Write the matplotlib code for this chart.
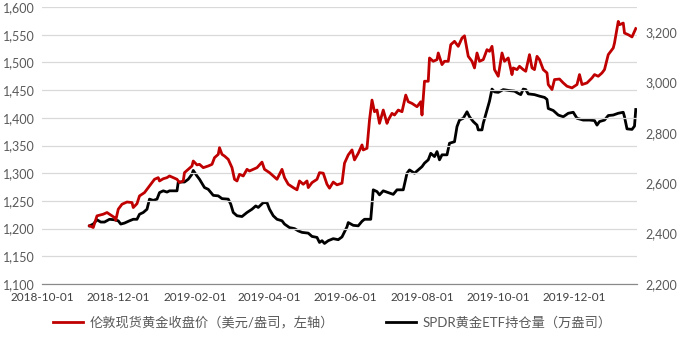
import matplotlib
matplotlib.use("Agg")
import matplotlib.pyplot as plt
import matplotlib.dates as mdates
import pandas as pd

# 伦敦现货黄金收盘价 (left axis, USD/oz)
gold_dates = [
    "2018-11-08", "2018-11-11", "2018-11-14", "2018-11-19", "2018-11-22", "2018-11-26",
    "2018-11-28", "2018-11-29", "2018-12-01", "2018-12-04", "2018-12-08", "2018-12-12",
    "2018-12-13", "2018-12-16", "2018-12-18", "2018-12-22", "2018-12-25", "2018-12-28",
    "2018-12-30", "2019-01-02", "2019-01-03", "2019-01-06", "2019-01-09", "2019-01-11",
    "2019-01-14", "2019-01-17", "2019-01-19", "2019-01-22", "2019-01-23", "2019-01-26",
    "2019-01-29", "2019-01-30", "2019-02-02", "2019-02-04", "2019-02-07", "2019-02-11",
    "2019-02-14", "2019-02-16", "2019-02-19", "2019-02-20", "2019-02-22", "2019-02-24",
    "2019-02-27", "2019-03-02", "2019-03-04", "2019-03-06", "2019-03-08", "2019-03-11",
    "2019-03-14", "2019-03-16", "2019-03-19", "2019-03-22", "2019-03-26", "2019-03-28",
    "2019-04-01", "2019-04-04", "2019-04-07", "2019-04-11", "2019-04-13", "2019-04-16",
    "2019-04-20", "2019-04-23", "2019-04-25", "2019-04-28", "2019-05-01", "2019-05-02",
    "2019-05-05", "2019-05-09", "2019-05-11", "2019-05-14", "2019-05-17", "2019-05-19",
    "2019-05-22", "2019-05-25", "2019-05-29", "2019-05-31", "2019-06-03", "2019-06-06",
    "2019-06-08", "2019-06-11", "2019-06-14", "2019-06-15", "2019-06-18", "2019-06-20",
    "2019-06-22", "2019-06-24", "2019-06-26", "2019-06-28", "2019-07-01", "2019-07-04",
    "2019-07-05", "2019-07-08", "2019-07-10", "2019-07-13", "2019-07-16", "2019-07-19",
    "2019-07-21", "2019-07-24", "2019-07-28", "2019-07-31", "2019-08-01", "2019-08-03",
    "2019-08-06", "2019-08-07", "2019-08-10", "2019-08-13", "2019-08-14", "2019-08-17",
    "2019-08-19", "2019-08-22", "2019-08-24", "2019-08-27", "2019-08-30", "2019-09-02",
    "2019-09-04", "2019-09-07", "2019-09-10", "2019-09-12", "2019-09-14", "2019-09-16",
    "2019-09-19", "2019-09-22", "2019-09-24", "2019-09-26", "2019-09-27", "2019-09-28",
    "2019-10-01", "2019-10-04", "2019-10-06", "2019-10-09", "2019-10-12", "2019-10-13",
    "2019-10-16", "2019-10-18", "2019-10-21", "2019-10-23", "2019-10-26", "2019-10-28",
    "2019-10-30", "2019-11-01", "2019-11-03", "2019-11-06", "2019-11-09", "2019-11-10",
    "2019-11-13", "2019-11-15", "2019-11-19", "2019-11-22", "2019-11-25", "2019-11-29",
    "2019-12-03", "2019-12-05", "2019-12-07", "2019-12-11", "2019-12-15", "2019-12-17",
    "2019-12-20", "2019-12-23", "2019-12-25", "2019-12-28", "2020-01-01", "2020-01-02",
    "2020-01-05", "2020-01-06", "2020-01-09", "2020-01-10", "2020-01-13", "2020-01-16",
    "2020-01-19",
]
gold_price = [
    1205, 1202, 1223, 1226, 1229, 1223,
    1220, 1215, 1235, 1244, 1248, 1247,
    1238, 1245, 1259, 1265, 1274, 1283,
    1289, 1292, 1286, 1290, 1292, 1295,
    1292, 1289, 1283, 1286, 1301, 1307,
    1313, 1322, 1315, 1316, 1310, 1313,
    1316, 1328, 1334, 1346, 1334, 1331,
    1325, 1310, 1289, 1286, 1298, 1295,
    1307, 1304, 1307, 1310, 1320, 1307,
    1301, 1295, 1289, 1307, 1292, 1280,
    1274, 1270, 1286, 1280, 1286, 1274,
    1283, 1289, 1301, 1300, 1280, 1273,
    1284, 1279, 1282, 1318, 1333, 1342,
    1324, 1336, 1351, 1342, 1345, 1396,
    1432, 1411, 1414, 1390, 1414, 1390,
    1396, 1408, 1405, 1414, 1411, 1441,
    1429, 1426, 1420, 1429, 1405, 1466,
    1466, 1508, 1502, 1505, 1517, 1496,
    1502, 1502, 1532, 1538, 1529, 1544,
    1548, 1511, 1502, 1490, 1517, 1502,
    1505, 1523, 1520, 1529, 1511, 1487,
    1475, 1517, 1502, 1508, 1478, 1490,
    1487, 1493, 1487, 1484, 1514, 1490,
    1487, 1511, 1505, 1487, 1481, 1460,
    1451, 1469, 1470, 1463, 1457, 1454,
    1460, 1478, 1460, 1463, 1472, 1478,
    1475, 1481, 1487, 1514, 1526, 1535,
    1574, 1568, 1571, 1553, 1550, 1546,
    1561,
]

# SPDR黄金ETF持仓量 (right axis, 万盎司)
etf_dates = [
    "2018-11-08", "2018-11-11", "2018-11-14", "2018-11-17", "2018-11-20", "2018-11-24",
    "2018-11-28", "2018-12-01", "2018-12-03", "2018-12-06", "2018-12-10", "2018-12-13",
    "2018-12-16", "2018-12-18", "2018-12-21", "2018-12-24", "2018-12-26", "2018-12-29",
    "2019-01-01", "2019-01-03", "2019-01-06", "2019-01-09", "2019-01-11", "2019-01-17",
    "2019-01-18", "2019-01-23", "2019-01-26", "2019-01-29", "2019-01-30", "2019-02-02",
    "2019-02-04", "2019-02-08", "2019-02-11", "2019-02-15", "2019-02-19", "2019-02-22",
    "2019-02-27", "2019-03-01", "2019-03-03", "2019-03-06", "2019-03-10", "2019-03-14",
    "2019-03-18", "2019-03-21", "2019-03-23", "2019-03-27", "2019-03-30", "2019-04-01",
    "2019-04-04", "2019-04-07", "2019-04-11", "2019-04-13", "2019-04-17", "2019-04-21",
    "2019-04-24", "2019-04-27", "2019-05-02", "2019-05-05", "2019-05-09", "2019-05-11",
    "2019-05-13", "2019-05-15", "2019-05-18", "2019-05-22", "2019-05-26", "2019-05-29",
    "2019-06-02", "2019-06-03", "2019-06-07", "2019-06-11", "2019-06-14", "2019-06-16",
    "2019-06-21", "2019-06-23", "2019-06-26", "2019-06-28", "2019-07-01", "2019-07-05",
    "2019-07-09", "2019-07-12", "2019-07-17", "2019-07-20", "2019-07-22", "2019-07-26",
    "2019-07-29", "2019-08-01", "2019-08-03", "2019-08-06", "2019-08-08", "2019-08-11",
    "2019-08-13", "2019-08-15", "2019-08-17", "2019-08-21", "2019-08-23", "2019-08-27",
    "2019-08-29", "2019-08-31", "2019-09-03", "2019-09-06", "2019-09-08", "2019-09-11",
    "2019-09-14", "2019-09-15", "2019-09-18", "2019-09-19", "2019-09-22", "2019-09-24",
    "2019-09-26", "2019-09-28", "2019-10-01", "2019-10-05", "2019-10-10", "2019-10-14",
    "2019-10-17", "2019-10-19", "2019-10-21", "2019-10-23", "2019-10-25", "2019-10-30",
    "2019-11-03", "2019-11-07", "2019-11-09", "2019-11-10", "2019-11-14", "2019-11-18",
    "2019-11-22", "2019-11-26", "2019-11-30", "2019-12-03", "2019-12-08", "2019-12-13",
    "2019-12-17", "2019-12-19", "2019-12-21", "2019-12-25", "2019-12-28", "2020-01-01",
    "2020-01-05", "2020-01-09", "2020-01-10", "2020-01-12", "2020-01-16", "2020-01-18",
    "2020-01-19",
]
etf_holdings = [
    2431, 2438, 2455, 2446, 2446, 2457,
    2455, 2451, 2438, 2442, 2451, 2457,
    2457, 2477, 2484, 2497, 2537, 2532,
    2537, 2563, 2570, 2565, 2570, 2570,
    2605, 2605, 2616, 2636, 2651, 2629,
    2616, 2583, 2576, 2552, 2550, 2539,
    2537, 2517, 2484, 2471, 2468, 2484,
    2497, 2510, 2504, 2523, 2523, 2497,
    2471, 2457, 2451, 2438, 2424, 2420,
    2411, 2405, 2402, 2389, 2385, 2365,
    2372, 2361, 2372, 2380, 2376, 2387,
    2427, 2444, 2433, 2431, 2449, 2457,
    2457, 2574, 2567, 2554, 2570, 2563,
    2556, 2574, 2574, 2640, 2653, 2640,
    2653, 2666, 2680, 2693, 2719, 2706,
    2726, 2693, 2713, 2713, 2759, 2765,
    2825, 2851, 2858, 2884, 2864, 2845,
    2831, 2812, 2812, 2838, 2891, 2926,
    2974, 2963, 2961, 2972, 2968, 2966,
    2957, 2952, 2974, 2972, 2955, 2952,
    2946, 2941, 2933, 2897, 2889, 2871,
    2864, 2878, 2882, 2858, 2851, 2851,
    2849, 2831, 2845, 2851, 2869, 2871,
    2878, 2882, 2864, 2816, 2814, 2827,
    2893,
]

left_ticks = [1100, 1150, 1200, 1250, 1300, 1350, 1400, 1450, 1500, 1550, 1600]
right_ticks = [2200, 2400, 2600, 2800, 3000, 3200]
x_ticks = ["2018-10-01", "2018-12-01", "2019-02-01", "2019-04-01",
           "2019-06-01", "2019-08-01", "2019-10-01", "2019-12-01"]

gold_label = "伦敦现货黄金收盘价（美元/盎司，左轴）"
etf_label = "SPDR黄金ETF持仓量（万盎司）"

plt.rcParams['font.family'] = ['Lato', 'Noto Sans CJK SC', 'DejaVu Sans']
tick_color = "#595959"

fig = plt.figure(figsize=(6.8, 3.51), dpi=100)
ax = fig.add_axes([42 / 680, 1 - 284 / 351, 595 / 680, 277 / 351])
ax2 = ax.twinx()

g_x = pd.to_datetime(gold_dates)
e_x = pd.to_datetime(etf_dates)
l1, = ax.plot(g_x, gold_price, color="#C00000", lw=2.0, label=gold_label, zorder=3)
l2, = ax2.plot(e_x, etf_holdings, color="black", lw=2.0, label=etf_label, zorder=3)

ax.set_ylim(1100, 1600)
ax.set_yticks(left_ticks)
ax.set_yticklabels([f"{v:,}" for v in left_ticks])
ax2.set_ylim(2200, 3300)
ax2.set_yticks(right_ticks)
ax2.set_yticklabels([f"{v:,}" for v in right_ticks])

ax.set_xlim(pd.Timestamp("2018-10-01"), pd.Timestamp("2020-01-20"))
ax.set_xticks(pd.to_datetime(x_ticks))
ax.xaxis.set_major_formatter(mdates.DateFormatter("%Y-%m-%d"))

ax.grid(axis="y", color="#d9d9d9", lw=0.9)
ax.set_axisbelow(True)
for a in (ax, ax2):
    for s in ("top", "left", "right"):
        a.spines[s].set_visible(False)
    a.spines["bottom"].set_color("#898989")
    a.tick_params(length=0, labelsize=9, colors=tick_color)
ax.tick_params(axis="y", pad=5)
ax2.tick_params(axis="y", pad=6)
ax.tick_params(axis="x", pad=6, labelsize=8.5, labelcolor="#404040")

ax.patch.set_visible(False)
ax.set_zorder(ax2.get_zorder() + 1)

fig.legend(handles=[l1, l2], loc="center left", bbox_to_anchor=(0.06, 0.082),
           ncol=2, frameon=False, fontsize=9.5, handlelength=2.3,
           handletextpad=0.5, columnspacing=3.9, labelcolor=tick_color)

fig.savefig("out.png", dpi=100)
